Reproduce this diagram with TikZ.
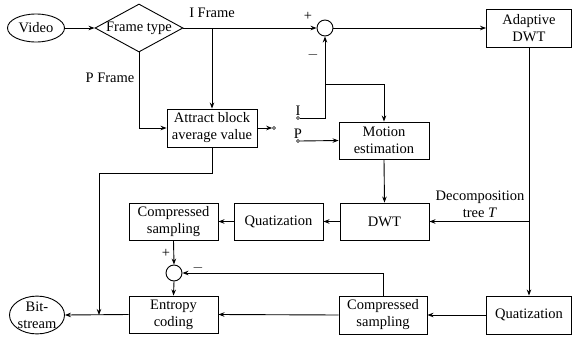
\documentclass[tikz,border=0pt]{standalone}
\usepackage{fontspec}
\setmainfont{Liberation Serif}
\usetikzlibrary{shapes.geometric,arrows.meta}
\begin{document}
\begin{tikzpicture}[x=1pt,y=-1pt,
  font=\fontsize{14.5}{17}\selectfont,
  line width=0.9pt,
  box/.style={draw, align=center, inner sep=0pt, minimum width=89pt, minimum height=37pt},
  oval/.style={draw, ellipse, align=center, inner sep=0pt},
  sumc/.style={draw, circle, inner sep=0pt, minimum size=16pt},
  term/.style={draw, circle, inner sep=0pt, minimum size=3pt, line width=0.6pt},
  arr/.style={-{Stealth[length=6pt,width=4.5pt]}},
  lbl/.style={inner sep=0pt, align=center}]
\useasboundingbox (0,0) rectangle (573,343);

% nodes
\node[oval, minimum width=57pt, minimum height=28pt] (video) at (36,28) {Video};
\node[draw, diamond, minimum width=88pt, minimum height=48pt, inner sep=0pt,
      label=center:Frame type] (ft) at (139,28) {};
\node[box, minimum width=90pt, minimum height=38pt] (attract) at (212,128) {Attract block\\average value};
\node[sumc] (s1) at (325,28) {};
\node[box, minimum width=85pt, minimum height=38pt] (adaptive) at (529,28) {Adaptive\\DWT};
\node[term] (sw) at (274,128) {};
\node[term, label={[inner sep=0.5pt]above:I}] (tI) at (298,118) {};
\node[term, label={[inner sep=0.5pt]above:P}] (tP) at (298,141) {};
\node[box, minimum width=90pt] (motion) at (384,140.5) {Motion\\estimation};
\node[box] (dwt) at (384.5,221.5) {DWT};
\node[box] (quat1) at (278.5,221.5) {Quatization};
\node[box] (cs1) at (173.5,221.5) {Compressed\\sampling};
\node[sumc] (s2) at (174,273) {};
\node[box] (entropy) at (173.5,314.5) {Entropy\\coding};
\node[box, minimum width=88pt, minimum height=38pt] (cs2) at (383,315) {Compressed\\sampling};
\node[box, minimum width=85pt, minimum height=38pt] (quat2) at (529,315) {Quatization};
\node[oval, minimum width=55pt, minimum height=36pt] (bit) at (37,315) {Bit-\\stream};

% labels
\node[lbl] (lI) at (212,13) {I Frame};
\node[lbl] (lP) at (110,78) {P Frame};
\node[lbl] (p1) at (308,16) {+};
\node[lbl] (m1) at (313,55) {$-$};
\node[lbl] (p2) at (166,253) {+};
\node[lbl] (m2) at (198,268) {$-$};
\node[lbl] (ldt) at (480,204) {Decomposition\\tree \textit{T}};

% connectors
\coordinate (bI) at (attract.north |- ft.east);
\coordinate (bME) at (325,84);
\coordinate (bT) at (adaptive.south |- dwt.east);
\coordinate (j) at (99,315);

\draw[arr] (video) -- (ft.west);
\draw[arr] (ft.east) -- (s1.west);
\draw[arr] (bI) -- (attract.north);
\draw[arr] (ft.south) |- (attract.west);
\draw[arr] (attract.east) -- (sw.west);
\draw[arr] (tI.east) -| (s1.south);
\draw[arr] (bME) -| (motion.north);
\draw[arr] (tP.east) -- (motion.west);
\draw[arr] (s1.east) -- (adaptive.west);
\draw[arr] (adaptive.south) -- (quat2.north);
\draw[arr] (bT) -- (dwt.east);
\draw[arr] (motion.south) -- (dwt.north);
\draw[arr] (dwt.west) -- (quat1.east);
\draw[arr] (quat1.west) -- (cs1.east);
\draw[arr] (cs1.south) -- (s2.north);
\draw[arr] (s2.south) -- (entropy.north);
\draw[arr] (cs2.north) |- (s2.east);
\draw[arr] (quat2.west) -- (cs2.east);
\draw[arr] (cs2.west) -- (entropy.east);
\draw[arr] (entropy.west) -- (bit.east);
\draw[arr] (attract.south) -- ++(0,26) -| (j);
\end{tikzpicture}
\end{document}
